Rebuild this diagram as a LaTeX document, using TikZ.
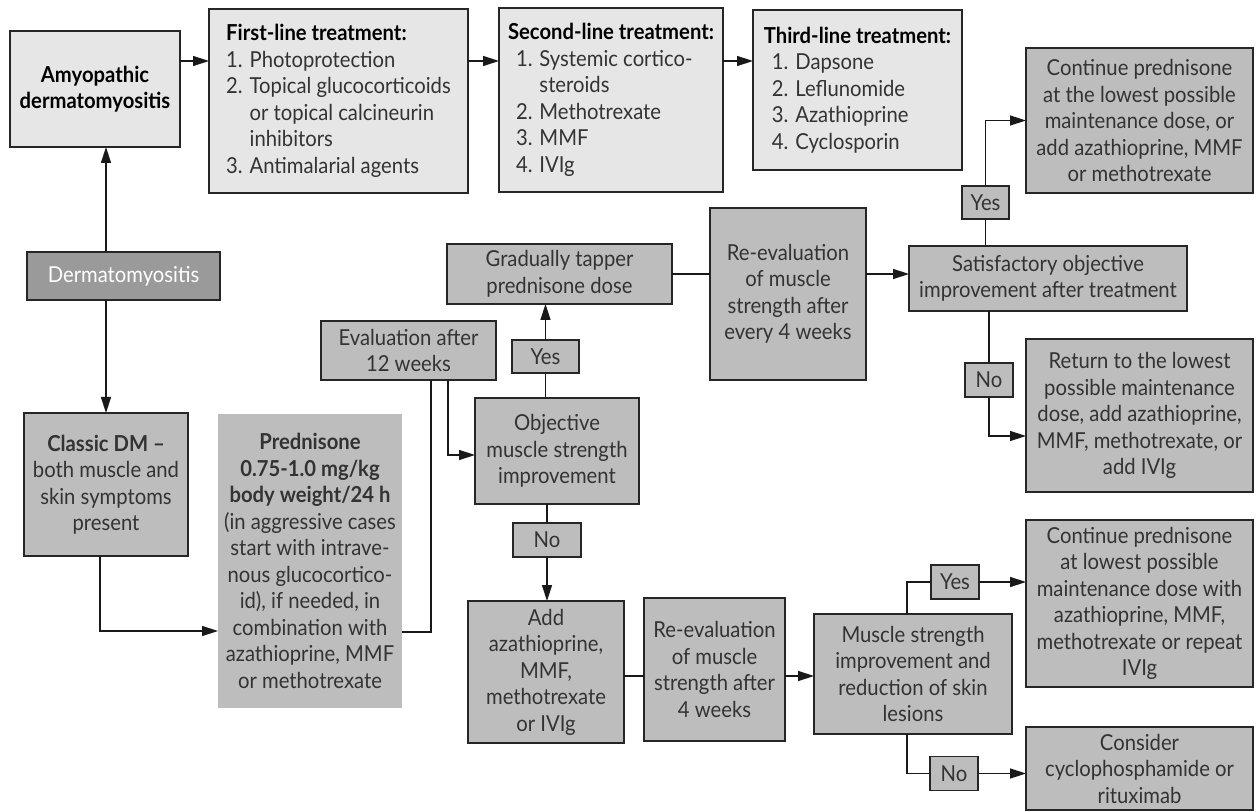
\documentclass[tikz,border=0pt]{standalone}
\usepackage{fontspec}
\setmainfont{Lato}[FakeStretch=0.92]
\usetikzlibrary{arrows.meta, calc}
\definecolor{lightfill}{HTML}{E6E6E6}
\definecolor{midfill}{HTML}{BDBDBD}
\definecolor{darkfill}{HTML}{9A9A9A}
\definecolor{ink}{HTML}{333333}

\begin{document}
\begin{tikzpicture}[x=0.5pt, y=-0.5pt,
box/.style={draw=black!85, line width=0.75pt, fill=midfill, text=ink, align=center, inner sep=0pt, outer sep=0pt, font=\fontsize{11}{13.25}\selectfont},
pale/.style={box, fill=lightfill},
wh/.style 2 args={minimum width=#1*0.5pt, minimum height=#2*0.5pt},
arr/.style={-{Triangle[length=8pt, width=5pt]}, line width=0.7pt, draw=black!90},
link/.style={line width=0.7pt, draw=black!90}]
\useasboundingbox (0,0) rectangle (1258,812);

% top row
\node [pale, wh={170}{116}, text=black] (amyo) at (95,89) {\textbf{Amyopathic}\\\textbf{dermatomyositis}};
\node [pale, wh={259}{184}, align=left] (first) at (338.5,101) {\textcolor{black}{\textbf{First-line treatment:}}\\1. Photoprotection\\2. Topical glucocorticoids\\\phantom{2. }or topical calcineurin\\\phantom{2. }inhibitors\\3. Antimalarial agents};
\node [pale, wh={224}{184}, align=left] (second) at (611,100) {\textcolor{black}{\textbf{Second-line treatment:}}\\\hspace*{4pt}1. Systemic cortico-\\\hspace*{4pt}\phantom{1. }steroids\\\hspace*{4pt}2. Methotrexate\\\hspace*{4pt}3. MMF\\\hspace*{4pt}4. IVIg};
\node [pale, wh={209}{160}, align=left] (third) at (857.5,90) {\textcolor{black}{\textbf{Third-line treatment:}}\\\hspace*{4pt}1. Dapsone\\\hspace*{4pt}2. Leflunomide\\\hspace*{4pt}3. Azathioprine\\\hspace*{4pt}4. Cyclosporin};

% left column
\node [box, wh={193}{48}, fill=darkfill, text=white] (derm) at (123.5,276) {Dermatomyositis};
\node [box, wh={164}{143}] (classic) at (106,484.5) {\textbf{Classic DM –}\\both muscle and\\skin symptoms\\present};
\node [box, wh={184}{294}, draw=none] (pred) at (310,561) {\textbf{Prednisone}\\\textbf{0.75-1.0 mg/kg}\\\textbf{body weight/24 h}\\(in aggressive cases\\start with intrave-\\nous glucocortico-\\id), if needed, in\\combination with\\azathioprine, MMF\\or methotrexate};

% middle
\node [box, wh={175}{59}] (eval) at (408.5,350.5) {Evaluation after\\12 weeks};
\node [box, wh={225}{60}] (grad) at (559.5,274) {Gradually tapper\\prednisone dose};
\node [box, wh={67}{33}] (yes1) at (545.5,356.5) {Yes};
\node [box, wh={164}{106}] (obj) at (557,451) {Objective\\muscle strength\\improvement};
\node [box, wh={68}{34}] (no1) at (547,540) {No};
\node [box, wh={156}{142}] (add) at (546,672) {Add\\azathioprine,\\MMF,\\methotrexate\\or IVIg};
\node [box, wh={141}{143}] (reeval2) at (714.5,669.5) {Re-evaluation\\of muscle\\strength after\\4 weeks};
\node [box, wh={156}{172}] (reeval1) at (788,294) {Re-evaluation\\of muscle\\strength after\\every 4 weeks};

% right
\node [box, wh={278}{65}] (sat) at (1048,278.5) {Satisfactory objective\\improvement after treatment};
\node [box, wh={47}{33}] (yes2) at (985.5,202.5) {Yes};
\node [box, wh={227}{145}] (cont1) at (1139.5,120.5) {Continue prednisone\\at the lowest possible\\maintenance dose, or\\add azathioprine, MMF\\or methotrexate};
\node [box, wh={48}{34}] (no2) at (989,380) {No};
\node [box, wh={227}{153}] (ret) at (1139.5,415.5) {Return to the lowest\\possible maintenance\\dose, add azathioprine,\\MMF, methotrexate, or\\add IVIg};
\node [box, wh={198}{120}] (muscle) at (913,674) {Muscle strength\\improvement and\\reduction of skin\\lesions};
\node [box, wh={48}{34}] (yes3) at (955,582) {Yes};
\node [box, wh={227}{167}] (cont2) at (1139.5,603.5) {Continue prednisone\\at lowest possible\\maintenance dose with\\azathioprine, MMF,\\methotrexate or repeat\\IVIg};
\node [box, wh={48}{34}] (no3) at (954,773.5) {No};
\node [box, wh={227}{83}] (consider) at (1139.5,768.5) {Consider\\cyclophosphamide or\\rituximab};

% connectors
\coordinate (toprow) at (0,61);
\coordinate (lowrow) at (0,676);
\draw[arr] (amyo.east |- toprow) -- (first.west |- toprow);
\draw[arr] (first.east |- toprow) -- (second.west |- toprow);
\draw[arr] (second.east |- toprow) -- (third.west |- toprow);
\draw[arr] (derm.north -| classic.north) -- (amyo.south -| classic.north);
\draw[arr] (derm.south -| classic.north) -- (classic.north);
\draw[arr] ([xshift=-3pt]classic.south) |- ([yshift=-35pt]pred.west);
\draw[link] ([yshift=-35.5pt]pred.east) -| ([xshift=11.25pt]eval.south);
\draw[arr] ([xshift=19.75pt]eval.south) |- ([yshift=-2pt]obj.west);
\draw[link] (yes1.south) -- (yes1.south |- obj.north);
\draw[arr] (yes1.north) -- (yes1.north |- grad.south);
\draw[link] (no1.north) -- (no1.north |- obj.south);
\draw[arr] (no1.south) -- (no1.south |- add.north);
\draw[link] (grad.east) -- (grad.east -| reeval1.west);
\draw[arr] (reeval1.east |- grad.east) -- (sat.west |- grad.east);
\draw[link] (sat.north -| yes2.south) -- (yes2.south);
\draw[arr] (yes2.north) |- (cont1.west);
\draw[link] (sat.south -| no2.north) -- (no2.north);
\draw[arr] (no2.south) |- ([yshift=-10.25pt]ret.west);
\draw[link] (add.east |- lowrow) -- (reeval2.west |- lowrow);
\draw[arr] (reeval2.east |- lowrow) -- (muscle.west |- lowrow);
\draw[link] ([xshift=-3pt]muscle.north) |- (yes3.west);
\draw[arr] (yes3.east) -- (yes3.east -| cont2.west);
\draw[link] ([xshift=-3pt]muscle.south) |- (no3.west);
\draw[arr] (no3.east) -- (no3.east -| consider.west);
\end{tikzpicture}
\end{document}
